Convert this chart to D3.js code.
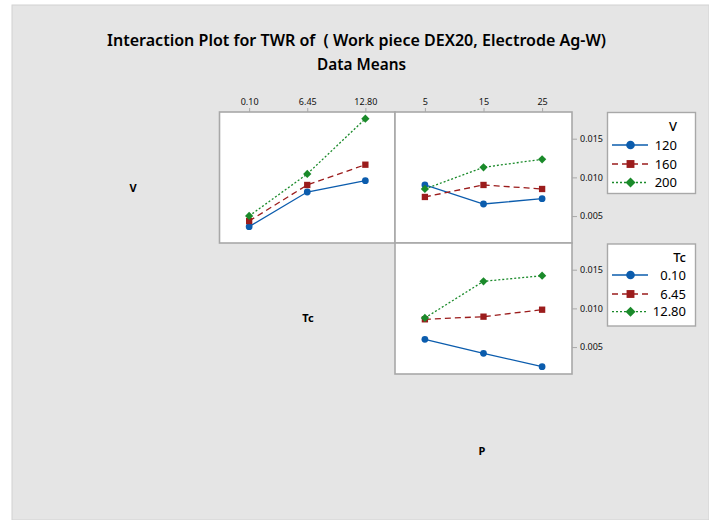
<!DOCTYPE html>
<html><head><meta charset="utf-8">
<script src="https://cdn.jsdelivr.net/npm/d3@7/dist/d3.min.js"></script>
<style>body{margin:0;background:#fff;} svg{display:block;} .pre{white-space:pre;}</style>
</head><body>
<svg id="c" width="709" height="520"></svg>
<script>
// ---- data ----
const vLevels = ["120", "160", "200"];
const tcLevels = ["0.10", "6.45", "12.80"];
const pLevels = ["5", "15", "25"];
const yTicks = [0.005, 0.010, 0.015];
// TWR means vs Tc, one line per V level
const v120_byTc = [0.00363, 0.00811, 0.00957];
const v160_byTc = [0.00436, 0.00902, 0.01164];
const v200_byTc = [0.00501, 0.01044, 0.01758];
// TWR means vs P, one line per V level
const v120_byP = [0.00902, 0.00656, 0.00725];
const v160_byP = [0.00747, 0.00902, 0.00850];
const v200_byP = [0.00850, 0.01130, 0.01234];
// TWR means vs P, one line per Tc level
const tc010_byP = [0.00600, 0.00420, 0.00246];
const tc645_byP = [0.00859, 0.00893, 0.00983];
const tc1280_byP = [0.00876, 0.01350, 0.01422];

// ---- styles ----
const colors = ["#0b5cad", "#9b1c1c", "#1a8a2a"];
const dashes = [null, "6,4", "2,2"];
const shapes = ["circle", "square", "diamond"];
const borderCol = "#a8a8a8";
const font = "'Noto Sans', 'Open Sans', sans-serif";

const svg = d3.select("#c");
svg.append("rect").attr("x", 12).attr("y", 5).attr("width", 697).attr("height", 515)
  .attr("fill", "#e5e5e5").attr("stroke", "#d2d2d2").attr("stroke-width", 1);

// title
svg.append("text").attr("class", "pre").attr("x", 356.5).attr("y", 46).attr("text-anchor", "middle")
  .attr("font-family", font).attr("font-weight", 600).attr("font-size", 16)
  .attr("textLength", 499).attr("lengthAdjust", "spacingAndGlyphs")
  .text("Interaction Plot for TWR of  ( Work piece DEX20, Electrode Ag-W)");
svg.append("text").attr("x", 361.5).attr("y", 70).attr("text-anchor", "middle")
  .attr("font-family", font).attr("font-weight", 600).attr("font-size", 16)
  .attr("textLength", 89).attr("lengthAdjust", "spacingAndGlyphs")
  .text("Data Means");

// factor labels
[["V", 133, 192], ["Tc", 308, 322], ["P", 482, 455]].forEach(([t, x, y]) => {
  svg.append("text").attr("x", x).attr("y", y).attr("text-anchor", "middle")
    .attr("font-family", font).attr("font-weight", "bold").attr("font-size", 11).text(t);
});

function symbolPath(shape, area) {
  if (shape === "circle") return d3.symbol(d3.symbolCircle, area)();
  return d3.symbol(d3.symbolSquare, area)();
}
function symbolRot(shape) { return shape === "diamond" ? " rotate(45)" : ""; }

const yDomain = [0.00152, 0.01845];

function panel(x0, x1, y0, y1, levels, seriesList, opts) {
  const g = svg.append("g");
  g.append("rect").attr("x", x0).attr("y", y0).attr("width", x1 - x0).attr("height", y1 - y0)
    .attr("fill", "#fff");
  const x = d3.scalePoint().domain(levels).range([x0, x1]).padding(0.51);
  const y = d3.scaleLinear().domain(yDomain).range([y1, y0]);
  seriesList.forEach((vals, i) => {
    const line = d3.line().x((d, j) => x(levels[j])).y(d => y(d));
    g.append("path").attr("d", line(vals)).attr("fill", "none")
      .attr("stroke", colors[i]).attr("stroke-width", 1.3)
      .attr("stroke-dasharray", dashes[i]);
  });
  seriesList.forEach((vals, i) => {
    const area = shapes[i] === "circle" ? 36 : (shapes[i] === "square" ? 40 : 34);
    g.selectAll(null).data(vals).enter().append("path")
      .attr("d", symbolPath(shapes[i], area))
      .attr("transform", (d, j) => `translate(${x(levels[j])},${y(d)})` + symbolRot(shapes[i]))
      .attr("fill", colors[i]);
  });
  if (opts.top) {
    const ax = g.append("g").attr("transform", `translate(0,${y0})`)
      .call(d3.axisTop(x).tickSize(4).tickPadding(3));
    ax.select(".domain").remove();
    ax.selectAll("line").attr("stroke", borderCol);
    ax.selectAll("text").attr("font-family", font).attr("font-size", 9).attr("fill", "#111");
  }
  if (opts.right) {
    const ay = g.append("g").attr("transform", `translate(${x1},0)`)
      .call(d3.axisRight(y).tickValues(yTicks).tickFormat(d3.format(".3f")).tickSize(5).tickPadding(3));
    ay.select(".domain").remove();
    ay.selectAll("line").attr("stroke", borderCol);
    ay.selectAll("text").attr("font-family", font).attr("font-size", 9).attr("fill", "#111");
  }
  g.append("rect").attr("x", x0).attr("y", y0).attr("width", x1 - x0).attr("height", y1 - y0)
    .attr("fill", "none").attr("stroke", borderCol).attr("stroke-width", 1.6);
}

panel(219.5, 395, 112, 243, tcLevels, [v120_byTc, v160_byTc, v200_byTc], {top: true});
panel(395, 572, 112, 243, pLevels, [v120_byP, v160_byP, v200_byP], {top: true, right: true});
panel(395, 572, 243, 374, pLevels, [tc010_byP, tc645_byP, tc1280_byP], {right: true});

function legend(x0, y0, w, h, title, labels, rightEdge, titleY, rowYs) {
  const g = svg.append("g");
  g.append("rect").attr("x", x0).attr("y", y0).attr("width", w).attr("height", h)
    .attr("fill", "#fff").attr("stroke", borderCol).attr("stroke-width", 1.4);
  g.append("text").attr("x", rightEdge).attr("y", titleY).attr("text-anchor", "end")
    .attr("font-family", font).attr("font-size", 13).attr("font-weight", 500).text(title);
  labels.forEach((lab, i) => {
    const cy = rowYs[i];
    g.append("line").attr("x1", 612).attr("x2", 648).attr("y1", cy).attr("y2", cy)
      .attr("stroke", colors[i]).attr("stroke-width", 1.3).attr("stroke-dasharray", dashes[i]);
    const area = shapes[i] === "circle" ? 58 : (shapes[i] === "square" ? 62 : 50);
    g.append("path").attr("d", symbolPath(shapes[i], area))
      .attr("transform", `translate(630.5,${cy})` + symbolRot(shapes[i]))
      .attr("fill", colors[i]);
    g.append("text").attr("x", rightEdge).attr("y", cy + 4.6).attr("text-anchor", "end")
      .attr("font-family", font).attr("font-size", 13).text(lab);
  });
}
legend(607.5, 112.5, 88, 81, "V", vLevels, 677, 131, [145, 164, 182.5]);
legend(607.5, 244, 88, 82, "Tc", tcLevels, 686, 261.5, [275, 294, 311.7]);
</script>
</body></html>
